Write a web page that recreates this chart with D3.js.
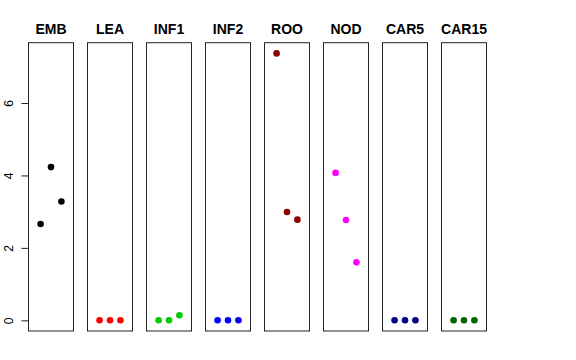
<!DOCTYPE html>
<html>
<head>
<meta charset="utf-8">
<script src="https://cdn.jsdelivr.net/npm/d3@7"></script>
<style>
  body { margin: 0; background: #fff; }
  text { font-family: "Liberation Sans", Arial, sans-serif; }
</style>
</head>
<body>
<div id="chart"></div>
<script>
const groups = ['EMB', 'LEA', 'INF1', 'INF2', 'ROO', 'NOD', 'CAR5', 'CAR15'];
const colors = ['#000000', '#ff0000', '#00cd00', '#0000ff', '#8b0000', '#ff00ff', '#000080', '#006400'];
const EMB = [2.66, 4.23, 3.28];
const LEA = [0, 0, 0];
const INF1 = [0, 0, 0.14];
const INF2 = [0, 0, 0];
const ROO = [7.37, 2.99, 2.78];
const NOD = [4.07, 2.77, 1.60];
const CAR5 = [0, 0, 0];
const CAR15 = [0, 0, 0];
const series = [EMB, LEA, INF1, INF2, ROO, NOD, CAR5, CAR15];
const yTicks = [0, 2, 4, 6];

const width = 576, height = 360;
const panelW = 45, step = 59, left0 = 28.5;
const plotTop = 42.7, plotBottom = 331;

const svg = d3.select('#chart')
              .append('svg')
              .attr('width', width)
              .attr('height', height);

// shared y scale, R style 4% padding around the data range
const yMax = d3.max(series, s => d3.max(s));
const pad = yMax * 0.04;
const yScale = d3.scaleLinear()
                 .domain([0 - pad, yMax + pad])
                 .range([plotBottom, plotTop]);

const xScale = d3.scaleLinear()
                 .domain([-0.16, 4.16])
                 .range([0, panelW]);

groups.forEach((g, i) => {
    const panel = svg.append('g')
                     .attr('transform', `translate(${left0 + i * step},0)`);

    panel.append('rect')
         .attr('x', 0)
         .attr('y', plotTop)
         .attr('width', panelW)
         .attr('height', plotBottom - plotTop)
         .attr('fill', 'none')
         .attr('stroke', '#222')
         .attr('stroke-width', 1);

    panel.append('text')
         .attr('x', panelW / 2)
         .attr('y', 34)
         .attr('text-anchor', 'middle')
         .attr('font-size', 14)
         .attr('font-weight', 'bold')
         .text(g);

    panel.selectAll('circle')
         .data(series[i])
         .enter()
         .append('circle')
         .attr('cx', (d, j) => xScale(j + 1))
         .attr('cy', d => yScale(d))
         .attr('r', 3.3)
         .attr('fill', colors[i]);

    if (i === 0) {
        const yAxis = d3.axisLeft(yScale)
                        .tickValues(yTicks)
                        .tickSize(7)
                        .tickFormat(d3.format('d'));
        const ax = panel.append('g')
                        .attr('class', 'axis y-axis')
                        .call(yAxis);
        ax.select('.domain')
          .attr('d', `M0,${yScale(0)}V${yScale(6)}`)
          .attr('stroke', '#222');
        ax.selectAll('.tick line').attr('stroke', '#222');
        ax.selectAll('.tick text')
          .attr('font-size', 12)
          .attr('font-family', '"Liberation Sans", Arial, sans-serif')
          .attr('fill', '#000')
          .attr('transform', 'rotate(-90)')
          .attr('x', 0)
          .attr('y', -16)
          .attr('dy', 0)
          .attr('text-anchor', 'middle');
    }
});
</script>
</body>
</html>
